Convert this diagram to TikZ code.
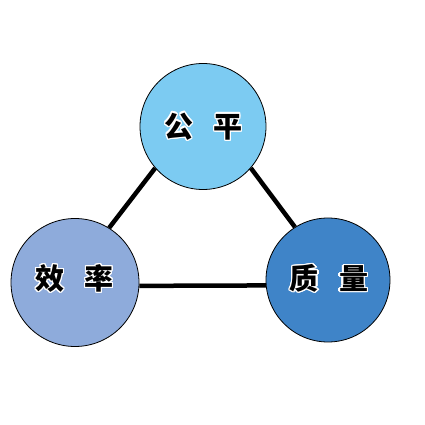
\documentclass[tikz,border=0pt]{standalone}
\usepackage{fontspec}
\usepackage{xcolor}
\usepackage{tikz}
\usepackage{contour}
\contourlength{1.3pt}
\newfontfamily\cjk{Noto Sans CJK SC}
\definecolor{fairblue}{HTML}{7CCBF2}
\definecolor{effblue}{HTML}{8EABDB}
\definecolor{qualblue}{HTML}{3F84C8}

\begin{document}
\begin{tikzpicture}[
  x=1pt,y=1pt,
  ball/.style={circle,draw=black,line width=0.8pt,inner sep=0pt},
  word/.style={font=\cjk\bfseries\fontsize{29}{29}\selectfont},
  link/.style={line width=4.5pt,draw=black}
]
\useasboundingbox (0,0) rectangle (425,425);
\node[ball,fill=fairblue,minimum size=126] (gp) at (203,298.5) {};
\node[ball,fill=effblue,minimum size=128] (xl) at (75,142.5) {};
\node[ball,fill=qualblue,minimum size=124] (zl) at (328,145) {};
\node[word] (gptext) at (203.5,298) {\contour{white}{公\hspace{0.7em}平}};
\node[word] (xltext) at (74.5,146) {\contour{white}{效\hspace{0.7em}率}};
\node[word] (zltext) at (329,146) {\contour{white}{质\hspace{0.7em}量}};
\draw[link] (gp.221)--(xl.58);
\draw[link] (gp.319)--(zl.122);
\draw[link] (xl.357)--(zl.185);
\end{tikzpicture}
\end{document}
